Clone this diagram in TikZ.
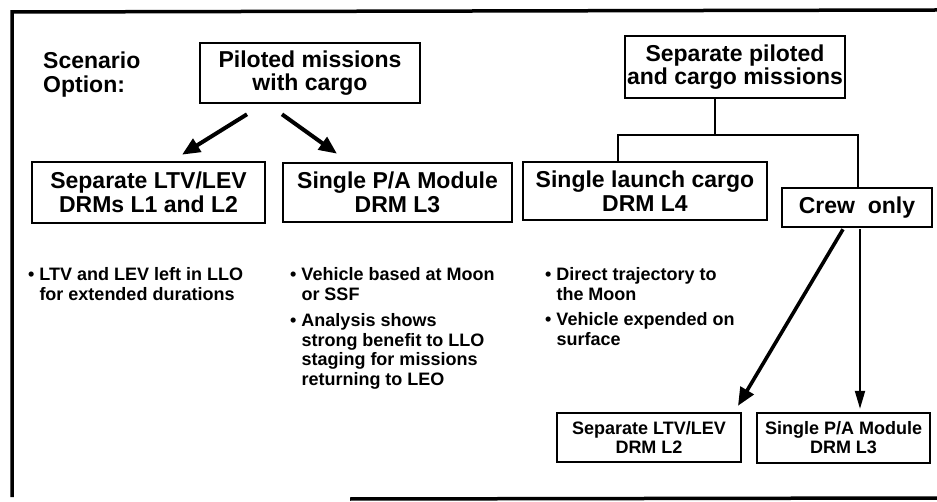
\documentclass[tikz,border=0pt]{standalone}
\usepackage{fontspec}
\setmainfont{Liberation Sans}
\usetikzlibrary{arrows.meta,calc}
\tikzset{
  box/.style={draw, line width=2.6pt, align=center, inner sep=0pt,
    font=\fontsize{23}{23.5}\selectfont\bfseries},
  smallbox/.style={box, line width=2.4pt, font=\fontsize{18}{19}\selectfont\bfseries},
  conn/.style={line width=2.4pt},
  bigarrow/.style={line width=4pt, -{Triangle[length=18pt,width=15pt]}},
  thinarrow/.style={line width=2pt, -{Triangle[length=18pt,width=10pt]}},
  note/.style={anchor=north west, inner sep=0pt, font=\fontsize{18}{19.5}\selectfont\bfseries},
  frameline/.style={line width=3.5pt}
}
\begin{document}
\begin{tikzpicture}[x=1pt,y=-1pt]
\useasboundingbox (0,0) rectangle (937,502);
% frame
\coordinate (ftl) at (12,12);
\coordinate (ftr) at (937,10);
\coordinate (fbl) at (12,497);
\coordinate (fb1) at (350,499);
\coordinate (fb2) at (937,498);
\draw[frameline] (fbl) -- (ftl) -- (ftr);
\draw[frameline] (fb1) -- (fb2);

% label
\node[anchor=north west, inner sep=0pt, align=left,
  font=\fontsize{23}{23.5}\selectfont\bfseries] (scen) at (43,52) {Scenario\\Option:};

% boxes
\node[box, minimum width=220pt, minimum height=60pt] (pil) at (310,73) {Piloted missions\\with cargo};
\node[box, minimum width=233pt, minimum height=61pt] (sepA) at (148.5,192.5) {Separate LTV/LEV\\DRMs L1 and L2};
\node[box, minimum width=229pt, minimum height=59pt] (spa) at (397.5,192.5) {Single P/A Module\\DRM L3};
\node[box, minimum width=220pt, minimum height=62pt] (spc) at (735,67) {Separate piloted\\and cargo missions};
\node[box, minimum width=244pt, minimum height=58pt] (l4) at (645,191) {Single launch cargo\\DRM L4};
\node[box, minimum width=150pt, minimum height=39pt] (crew) at (857,207.5) {Crew\ \ only};
\node[smallbox, minimum width=184pt, minimum height=49pt] (l2) at (649,437.5) {Separate LTV/LEV\\DRM L2};
\node[smallbox, minimum width=173pt, minimum height=50pt] (l3) at (843.5,438) {Single P/A Module\\DRM L3};

% bullet notes
\node[note] (n1) at (28,267) {\begin{tabular}{@{}l@{\hspace{5pt}}l@{}}
  •&LTV and LEV left in LLO\\ &for extended durations\end{tabular}};
\node[note] (n2) at (290,267) {\begin{tabular}{@{}l@{\hspace{5pt}}l@{}}
  •&Vehicle based at Moon\\ &or SSF\\[7pt]
  •&Analysis shows\\ &strong benefit to LLO\\ &staging for missions\\ &returning to LEO\end{tabular}};
\node[note] (n3) at (545,267) {\begin{tabular}{@{}l@{\hspace{5pt}}l@{}}
  •&Direct trajectory to\\ &the Moon\\[6pt]
  •&Vehicle expended on\\ &surface\end{tabular}};

% connectors
\draw[bigarrow] ($(pil.south)+(-63,10)$) -- ($(sepA.north)+(33.5,-6)$);
\draw[bigarrow] ($(pil.south)+(-28,10)$) -- ($(spa.north)+(-60.5,-8)$);

\coordinate (j) at (715,135);
\draw[conn] (spc.south -| j) -- (j);
\draw[conn] ($(l4.north)+(-27,0)$) |- (j) -| ($(crew.north)+(1,0)$);

\draw[bigarrow, line width=3.6pt] ($(crew.south)+(-14,1)$) -- ($(l2.north)+(89,-6)$);
\draw[thinarrow] ($(crew.south)+(3,1)$) -- ($(l3.north)+(16.5,-3)$);
\end{tikzpicture}
\end{document}
